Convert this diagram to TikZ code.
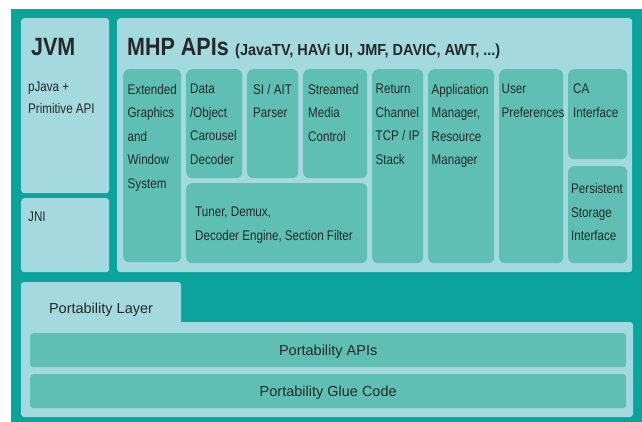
\documentclass[tikz,border=0pt]{standalone}
\usepackage{fontspec}
\usepackage{graphicx}
\setmainfont{Liberation Sans}
\newfontfamily\narrowfont{Liberation Sans}[FakeStretch=0.83]
\newfontfamily\titlefont{Liberation Sans}[FakeStretch=0.86]

\definecolor{tealbg}{RGB}{12,163,157}
\definecolor{paleblue}{RGB}{163,217,223}
\definecolor{midteal}{RGB}{95,191,181}
\definecolor{inktext}{RGB}{40,40,40}

\tikzset{
  panel/.style={fill=paleblue, rounded corners=3pt, inner sep=0, anchor=north west},
  module/.style={fill=midteal, rounded corners=6pt, inner sep=0, anchor=north west},
  lbl/.style={anchor=north west, inner sep=0, align=left, text=inktext,
    font=\narrowfont\fontsize{14}{23.5}\selectfont},
  baselbl/.style={anchor=base, inner sep=0, text=inktext, font=\fontsize{14.5}{16}\selectfont},
  heading/.style={anchor=base west, inner sep=0, text=inktext,
    font=\titlefont\bfseries\fontsize{25}{28}\selectfont},
}

\begin{document}
\begin{tikzpicture}[x=1pt, y=-1pt]
\useasboundingbox (0,0) rectangle (642,422);
\fill[tealbg] (11,9) rectangle (642,422);

% Java virtual machine column
\node[panel, minimum width=88, minimum height=175] (jvm) at (21,18) {};
\node[panel, minimum width=88, minimum height=74] (jni) at (21,198) {};
\node[heading] (jvmtitle) at (31,56) {JVM};
\node[lbl, font=\narrowfont\fontsize{14}{22.5}\selectfont] (jvmtext) at (28,81.5) {pJava +\\Primitive API};
\node[lbl] (jnitext) at (28,212) {JNI};

% MHP API panel
\node[panel, minimum width=515, minimum height=254] (mhp) at (117,18) {};
\node[heading] (mhptitle) at (127,56) {MHP APIs};
\node[anchor=base west, inner sep=0, text=inktext,
      font=\titlefont\bfseries\fontsize{16}{18}\selectfont] (mhpsub) at (235,56)
      {\resizebox{265pt}{\height}{(JavaTV, HAVi UI, JMF, DAVIC, AWT, ...)}};

\node[module, minimum width=58, minimum height=193] (ext) at (123,69) {};
\node[module, minimum width=56, minimum height=109] (carousel) at (186,69) {};
\node[module, minimum width=51, minimum height=109] (siait) at (247,69) {};
\node[module, minimum width=64, minimum height=109] (streamed) at (303,69) {};
\node[module, minimum width=181, minimum height=80] (tuner) at (186,183) {};
\node[module, minimum width=51, minimum height=194] (retchan) at (372,69) {};
\node[module, minimum width=66, minimum height=194] (appmgr) at (428,69) {};
\node[module, minimum width=64, minimum height=194] (userpref) at (499,69) {};
\node[module, minimum width=59, minimum height=90] (ca) at (568,69) {};
\node[module, minimum width=59, minimum height=97] (storage) at (568,166) {};

\node[lbl] (exttext) at (127.5,84) {Extended\\Graphics\\and\\Window\\System};
\node[lbl] (carouseltext) at (190,84) {Data\\/Object\\Carousel\\Decoder};
\node[lbl] (siaittext) at (253,84) {SI / AIT\\Parser};
\node[lbl] (streamedtext) at (308,84) {Streamed\\Media\\Control};
\node[lbl] (tunertext) at (195,207) {Tuner, Demux,\\Decoder Engine, Section Filter};
\node[lbl] (retchantext) at (375.5,84) {Return\\Channel\\TCP / IP\\Stack};
\node[lbl] (appmgrtext) at (431.5,84) {Application\\Manager,\\Resource\\Manager};
\node[lbl] (userpreftext) at (501.5,84) {User\\Preferences};
\node[lbl] (catext) at (573,84) {CA\\Interface};
\node[lbl] (storagetext) at (571,183.5) {Persistent\\Storage\\Interface};

% Portability layer: tab plus body
\path[fill=paleblue] (21,417) [rounded corners=3pt] -- (21,282) -- (181,282)
  [sharp corners] -- (181,322) [rounded corners=3pt] -- (633,322) -- (633,417) -- cycle;
\node[baselbl] (portlayer) at (101,313) {Portability Layer};
\node[module, rounded corners=3pt, minimum width=596, minimum height=34] (portapi) at (30,333) {};
\node[module, rounded corners=3pt, minimum width=596, minimum height=34] (portglue) at (30,374) {};
\node[baselbl] (portapitext) at ([yshift=-5.5pt]portapi.center) {Portability APIs};
\node[baselbl] (portgluetext) at ([yshift=-5.5pt]portglue.center) {Portability Glue Code};
\end{tikzpicture}
\end{document}
